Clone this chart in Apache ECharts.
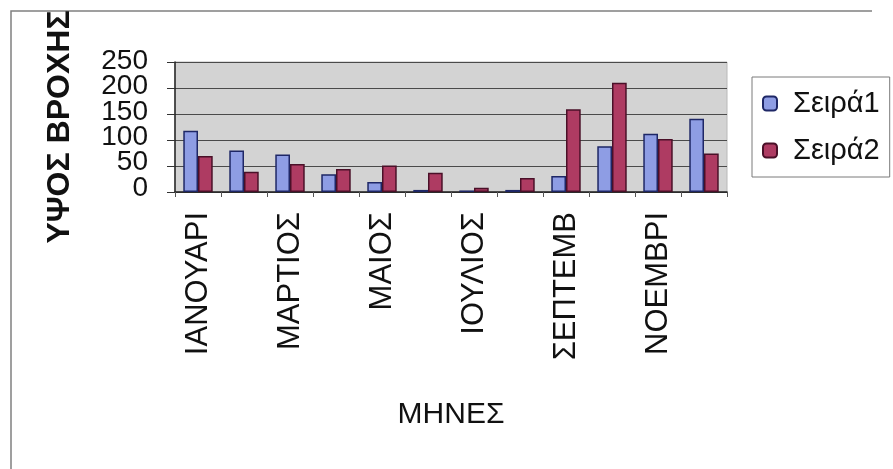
<!DOCTYPE html>
<html>
<head>
<meta charset="utf-8">
<script src="https://cdn.jsdelivr.net/npm/echarts@6/dist/echarts.min.js"></script>
<style>
  html, body { margin: 0; padding: 0; background: #ffffff; }
  #chart { width: 893px; height: 469px; }
</style>
</head>
<body>
<div id="chart"></div>
<script>
// Monthly rainfall, two series
const months = ['ΙΑΝΟΥΑΡΙ', 'ΦΕΒΡΟΥΑΡ', 'ΜΑΡΤΙΟΣ', 'ΑΠΡΙΛΙΟΣ', 'ΜΑΙΟΣ', 'ΙΟΥΝΙΟΣ',
                'ΙΟΥΛΙΟΣ', 'ΑΥΓΟΥΣΤ', 'ΣΕΠΤΕΜΒ', 'ΟΚΤΩΒΡΙ', 'ΝΟΕΜΒΡΙ', 'ΔΕΚΕΜΒΡ'];
const series1 = [118, 80, 72, 34, 19, 4, 3, 4, 31, 88, 112, 141];
const series2 = [69, 39, 54, 44, 51, 37, 8, 27, 159, 210, 102, 74];
const seriesNames = ['Σειρά1', 'Σειρά2'];
const yTickLabels = ['0', '50', '100', '150', '200', '250'];
const yTicks = { min: 0, max: 250, interval: 50 };

const FONT = '"Liberation Sans", Arial, sans-serif';

const chart = echarts.init(document.getElementById('chart'), null, { renderer: 'canvas' });

chart.setOption({
  animation: false,
  backgroundColor: '#ffffff',
  textStyle: { fontFamily: FONT, color: '#111' },
  grid: [
    {
      left: 175, right: 166, top: 62, bottom: 277,
      show: true, backgroundColor: '#d3d3d3', borderColor: '#b8b8b8', borderWidth: 1
    },
    // tick-label column for the value axis (the labels sit tightly stacked)
    { left: 175, right: 166, top: 61, bottom: 281 }
  ],
  legend: {
    data: seriesNames,
    orient: 'vertical',
    left: 752, top: 77,
    padding: [12, 10, 12, 10],
    itemWidth: 14, itemHeight: 14, itemGap: 18,
    backgroundColor: '#ffffff',
    borderColor: '#7a7a7a', borderWidth: 1,
    textStyle: { fontFamily: FONT, fontSize: 29, color: '#111', padding: [0, 0, 0, 11] }
  },
  xAxis: [
    {
      type: 'category',
      gridIndex: 0,
      data: months,
      boundaryGap: true,
      name: 'ΜΗΝΕΣ',
      nameLocation: 'middle',
      nameGap: 208,
      nameTextStyle: { fontFamily: FONT, fontSize: 30, color: '#111' },
      axisLine: { lineStyle: { color: '#222', width: 1.5 } },
      axisTick: { show: true, interval: 0, length: 5, lineStyle: { color: '#555' } },
      axisLabel: {
        interval: 1, rotate: 90, margin: 20,
        fontFamily: FONT, fontSize: 31, color: '#111'
      },
      splitLine: { show: false }
    },
    { type: 'value', gridIndex: 1, show: false }
  ],
  yAxis: [
    {
      type: 'value',
      gridIndex: 0,
      min: yTicks.min, max: yTicks.max, interval: yTicks.interval,
      name: 'ΥΨΟΣ ΒΡΟΧΗΣ',
      nameLocation: 'middle',
      nameRotate: 90,
      nameGap: 99,
      nameTextStyle: { fontFamily: FONT, fontSize: 32, fontWeight: 'bold', color: '#111' },
      axisLine: { show: true, lineStyle: { color: '#222', width: 1.5 } },
      axisTick: { show: true, length: 8, lineStyle: { color: '#333' } },
      axisLabel: { show: false },
      splitLine: { show: true, lineStyle: { color: '#4a4a4a', width: 1 } }
    },
    {
      type: 'category',
      gridIndex: 1,
      data: yTickLabels,
      boundaryGap: false,
      axisLine: { show: false },
      axisTick: { show: false },
      splitLine: { show: false },
      axisLabel: { interval: 0, margin: 27, fontFamily: FONT, fontSize: 28, color: '#111' }
    }
  ],
  series: [
    {
      name: seriesNames[0], type: 'bar', data: series1,
      xAxisIndex: 0, yAxisIndex: 0,
      barGap: '0%', barCategoryGap: '36%',
      itemStyle: { color: '#8e9de4', borderColor: '#1e2766', borderWidth: 1.5 }
    },
    {
      name: seriesNames[1], type: 'bar', data: series2,
      xAxisIndex: 0, yAxisIndex: 0,
      itemStyle: { color: '#ae3b62', borderColor: '#4a1028', borderWidth: 1.5 }
    }
  ],
  graphic: [
    {
      type: 'polyline',
      shape: { points: [[11, 469], [11, 11], [872, 11]] },
      style: { stroke: '#808080', lineWidth: 1.5, fill: null }
    }
  ]
});
</script>
</body>
</html>
